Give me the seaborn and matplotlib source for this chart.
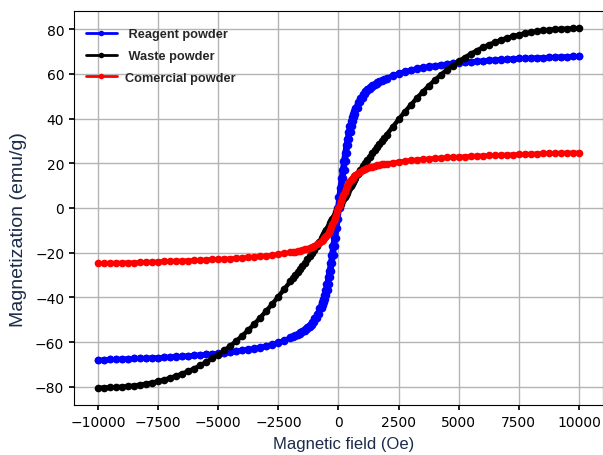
import matplotlib
matplotlib.use("Agg")
import matplotlib.pyplot as plt
import seaborn as sns

# Magnetic field steps (Oe)
field = [-10000, -9750, -9500, -9250, -9000, -8750, -8500, -8250, -8000, -7750,
         -7500, -7250, -7000, -6750, -6500, -6250, -6000, -5750, -5500, -5250,
         -5000, -4750, -4500, -4250, -4000, -3750, -3500, -3250, -3000, -2750,
         -2500, -2250,
         -2000, -1900, -1800, -1700, -1600, -1500, -1400, -1300, -1200, -1100,
         -1000, -900, -800, -700,
         -650, -600, -550, -500, -450, -400, -350, -300, -250, -200, -150, -100, -50,
         0, 50, 100, 150, 200, 250, 300, 350, 400, 450, 500, 550, 600, 650,
         700, 800, 900, 1000, 1100, 1200, 1300, 1400, 1500, 1600, 1700, 1800, 1900, 2000,
         2250, 2500, 2750, 3000, 3250, 3500, 3750, 4000, 4250, 4500,
         4750, 5000, 5250, 5500, 5750, 6000, 6250, 6500, 6750, 7000,
         7250, 7500, 7750, 8000, 8250, 8500, 8750, 9000, 9250, 9500,
         9750, 10000]

# Reagent powder: descending branch (+H -> -H) and ascending branch
reagent_down = [-68.1, -67.8, -67.7, -67.6, -67.5, -67.4, -67.3, -67.2, -67.1, -67.0,
                -66.9, -66.7, -66.5, -66.4, -66.2, -66.0, -65.8, -65.6, -65.4, -65.2,
                -65.0, -64.7, -64.4, -64.0, -63.6, -63.2, -62.7, -62.2, -61.6, -60.9,
                -60.1, -59.1,
                -57.8, -57.3, -56.8, -56.2, -55.6, -54.9, -54.1, -53.2, -52.1, -50.8,
                -49.3, -47.3, -44.8, -42.0,
                -40.5, -38.7, -36.5, -34.0, -31.0, -28.0, -24.8, -21.0, -17.0, -13.3, -9.0, -4.7, 0.0,
                4.7, 9.0, 13.3, 17.0, 21.0, 24.8, 28.0, 31.0, 34.0, 36.5, 38.7, 40.5, 42.0, 43.5,
                44.8, 47.3, 49.3, 50.8, 52.1, 53.2, 54.1, 54.9, 55.6, 56.2, 56.8, 57.3, 57.8, 58.2,
                59.3, 60.3, 61.1, 61.8, 62.4, 62.9, 63.3, 63.7, 64.1, 64.5,
                64.8, 65.1, 65.3, 65.5, 65.7, 65.9, 66.1, 66.3, 66.5, 66.6,
                66.8, 66.9, 67.0, 67.1, 67.2, 67.3, 67.4, 67.5, 67.6, 67.7,
                67.8, 67.8]
reagent_up = [-68.1, -67.8, -67.7, -67.6, -67.5, -67.4, -67.3, -67.2, -67.1, -67.0,
              -66.9, -66.8, -66.6, -66.5, -66.3, -66.1, -65.9, -65.7, -65.5, -65.3,
              -65.1, -64.8, -64.5, -64.1, -63.7, -63.3, -62.9, -62.4, -61.8, -61.1,
              -60.3, -59.3,
              -58.2, -57.8, -57.3, -56.8, -56.2, -55.6, -54.9, -54.1, -53.2, -52.1,
              -50.8, -49.3, -47.3, -44.8,
              -43.5, -42.0, -40.5, -38.7, -36.5, -34.0, -31.0, -28.0, -24.8, -21.0, -17.0, -13.3, -9.0,
              -4.7, 0.0, 4.7, 9.0, 13.3, 17.0, 21.0, 24.8, 28.0, 31.0, 34.0, 36.5, 38.7, 40.5,
              42.0, 44.8, 47.3, 49.3, 50.8, 52.1, 53.2, 54.1, 54.9, 55.6, 56.2, 56.8, 57.3, 57.8,
              59.1, 60.1, 60.9, 61.6, 62.2, 62.7, 63.2, 63.6, 64.0, 64.4,
              64.7, 65.0, 65.2, 65.4, 65.6, 65.8, 66.0, 66.2, 66.4, 66.5,
              66.7, 66.9, 67.0, 67.1, 67.2, 67.3, 67.4, 67.5, 67.6, 67.7,
              67.8, 67.8]

# Waste powder
waste = [-80.4, -80.3, -80.2, -80.1, -79.9, -79.7, -79.4, -79.0, -78.6, -78.1,
         -77.5, -76.8, -76.0, -75.1, -74.1, -73.0, -71.8, -70.4, -68.9, -67.3,
         -65.6, -63.7, -61.7, -59.5, -57.1, -54.6, -51.9, -49.0, -46.0, -42.9,
         -39.6, -36.2,
         -32.8, -31.4, -30.0, -28.6, -27.2, -25.8, -24.4, -23.0, -21.6, -20.1,
         -18.6, -17.0, -15.3, -13.5,
         -12.6, -11.7, -10.7, -9.8, -8.8, -7.9, -6.9, -5.9, -5.0, -4.0, -3.0, -2.0, -1.0,
         0.0, 1.0, 2.0, 3.0, 4.0, 5.0, 5.9, 6.9, 7.9, 8.8, 9.8, 10.7, 11.7, 12.6,
         13.5, 15.3, 17.0, 18.6, 20.1, 21.6, 23.0, 24.4, 25.8, 27.2, 28.6, 30.0, 31.4, 32.8,
         36.2, 39.6, 42.9, 46.0, 49.0, 51.9, 54.6, 57.1, 59.5, 61.7,
         63.7, 65.6, 67.3, 68.9, 70.4, 71.8, 73.0, 74.1, 75.1, 76.0,
         76.8, 77.5, 78.1, 78.6, 79.0, 79.4, 79.7, 79.9, 80.1, 80.2,
         80.3, 80.4]

# Comercial powder
comercial = [-24.7, -24.7, -24.6, -24.6, -24.5, -24.4, -24.4, -24.3, -24.2, -24.1,
             -24.0, -23.9, -23.8, -23.7, -23.6, -23.5, -23.4, -23.3, -23.1, -23.0,
             -22.9, -22.7, -22.6, -22.4, -22.2, -22.0, -21.8, -21.6, -21.3, -21.0,
             -20.7, -20.3,
             -19.9, -19.7, -19.5, -19.3, -19.1, -18.8, -18.5, -18.2, -17.8, -17.4,
             -16.9, -16.3, -15.6, -14.7,
             -14.2, -13.6, -13.0, -12.3, -11.5, -10.7, -9.7, -8.6, -7.3, -6.0, -4.5, -3.0, -1.5,
             0.0, 1.5, 3.0, 4.5, 6.0, 7.3, 8.6, 9.7, 10.7, 11.5, 12.3, 13.0, 13.6, 14.2,
             14.7, 15.6, 16.3, 16.9, 17.4, 17.8, 18.2, 18.5, 18.8, 19.1, 19.3, 19.5, 19.7, 19.9,
             20.3, 20.7, 21.0, 21.3, 21.6, 21.8, 22.0, 22.2, 22.4, 22.6,
             22.7, 22.9, 23.0, 23.1, 23.3, 23.4, 23.5, 23.6, 23.7, 23.8,
             23.9, 24.0, 24.1, 24.2, 24.3, 24.4, 24.4, 24.5, 24.6, 24.6,
             24.7, 24.7]

sns.set_theme(style="ticks", rc={
    "axes.grid": True,
    "grid.color": "#b4b4b4",
    "grid.linewidth": 1.0,
    "axes.edgecolor": "black",
    "axes.linewidth": 0.8,
    "xtick.color": "black",
    "ytick.color": "black",
    "xtick.labelsize": 10,
    "ytick.labelsize": 10,
    "xtick.major.size": 3.5,
    "ytick.major.size": 3.5,
})
plt.rcParams["font.family"] = ["DejaVu Sans"]

fig = plt.figure(figsize=(6.03, 4.56), dpi=100)
ax = fig.add_axes([74 / 603, 50 / 456, 529 / 603, 394 / 456])

# dense measurement points: thick line + round markers
style = dict(marker="o", markersize=5.5, markeredgewidth=0, linewidth=3.2,
             solid_capstyle="round", sort=False, estimator=None, ax=ax)

sns.lineplot(x=field, y=reagent_down, color="blue", markeredgecolor="blue",
             label=" Reagent powder", **style)
sns.lineplot(x=field, y=reagent_up, color="blue", markeredgecolor="blue", **style)
sns.lineplot(x=field, y=waste, color="black", markeredgecolor="black",
             label=" Waste powder", **style)
sns.lineplot(x=field, y=comercial, color="red", markeredgecolor="red",
             label="Comercial powder", **style)

ax.set_xlim(-11000, 11000)
ax.set_ylim(-88.1, 88.1)
ax.set_xticks([-10000, -7500, -5000, -2500, 0, 2500, 5000, 7500, 10000])
ax.set_yticks([-80, -60, -40, -20, 0, 20, 40, 60, 80])
for side in ["top", "right", "left", "bottom"]:
    ax.spines[side].set_visible(True)

label_color = "#1c2b4a"
ax.set_xlabel("Magnetic field (Oe)", fontsize=12, family="Liberation Sans", color=label_color)
ax.set_ylabel("Magnetization (emu/g)", fontsize=14, family="Liberation Sans", color=label_color)
ax.xaxis.set_label_coords(0.509, -0.078)
ax.yaxis.set_label_coords(-0.089, 0.449)

leg = ax.legend(loc="upper left", bbox_to_anchor=(0.0, 0.985), frameon=False,
                handlelength=2.5, labelspacing=0.75, handletextpad=0.6,
                prop={"family": "Liberation Sans", "weight": "bold", "size": 9.2})
for h in leg.get_lines():
    h.set_linewidth(2)
    h.set_markersize(4)

fig.savefig("out.png", dpi=100)
